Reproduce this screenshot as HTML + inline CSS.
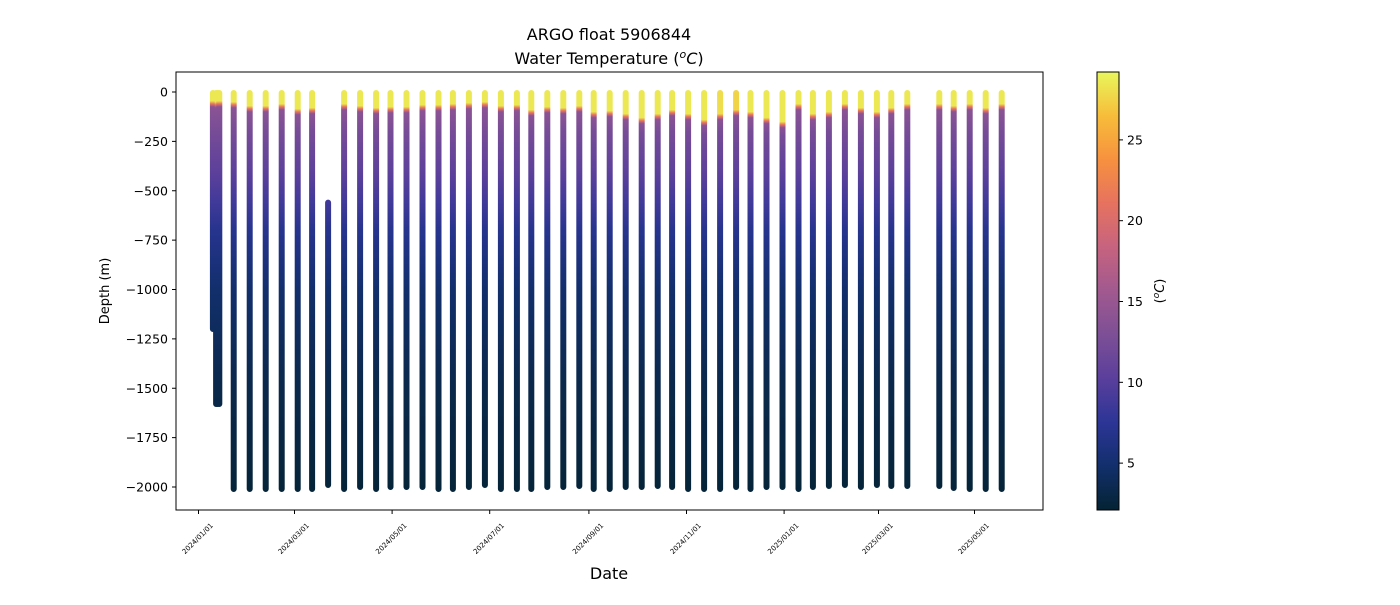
<!DOCTYPE html>
<html><head><meta charset="utf-8"><style>
body{margin:0;background:#fff;font-family:"Liberation Sans","DejaVu Sans",sans-serif}
</style></head><body>
<svg id="chart" width="1400" height="600" xmlns="http://www.w3.org/2000/svg" font-family="DejaVu Sans, Liberation Sans, sans-serif">
<defs id="defs"><linearGradient id="cbar" x1="0" y1="1" x2="0" y2="0"></linearGradient></defs>
<text x="609" y="40" text-anchor="middle" font-size="16">ARGO float 5906844</text>
<text x="609" y="64" text-anchor="middle" font-size="16">Water Temperature (<tspan font-style="italic" dy="-6" font-size="11">o</tspan><tspan font-style="italic" dy="6">C</tspan>)</text>
<g id="plot"></g>
<rect x="176" y="72" width="867" height="438" fill="none" stroke="#000" stroke-width="1"/>
<g id="yaxis"></g>
<g id="xaxis"></g>
<text transform="translate(109,291) rotate(-90)" text-anchor="middle" font-size="13">Depth (m)</text>
<text x="609" y="579" text-anchor="middle" font-size="16">Date</text>
<rect x="1097" y="72" width="22" height="438" fill="url(#cbar)" stroke="#000" stroke-width="1"/>
<g id="cbaxis"></g>
<text transform="translate(1164,291) rotate(-90)" text-anchor="middle" font-size="13">(<tspan font-style="italic" dy="-5" font-size="9">o</tspan><tspan font-style="italic" dy="5">C</tspan>)</text>
</svg>
<script>
// data: day offsets from 2024-01-01
const days=[9,11,12,13,22,32,42,52,62,71,81,91,101,111,120,130,140,150,159,169,179,189,199,208,218,228,238,247,257,267,277,287,296,306,316,326,336,345,355,365,375,384,394,404,414,424,433,443,463,472,482,492,502];
const sst=[28.5,28.5,28.5,28.5,28.5,28.5,28.5,28.5,28.5,28.5,28.5,28.5,28.5,28.5,28.5,28.5,28.5,28.5,28.5,28.5,28.5,28.5,28.5,28.5,28.5,28.5,28.5,28.5,28.5,28.5,28.5,28.5,28.5,28.5,28.5,28,27.5,28.5,28.5,28.5,28.5,28.5,28.5,28.5,28.5,28.5,28.5,28.5,28.5,28.5,28.5,28.5,28.5];
const mld=[45,45,50,45,50,70,70,60,85,80,0,60,70,80,75,75,65,65,60,55,50,70,65,90,75,80,70,100,95,110,130,110,90,110,140,110,90,100,130,150,60,110,100,60,80,100,80,60,60,70,60,80,60];
const minDepth=[5,5,5,5,5,5,5,5,5,5,560,5,5,5,5,5,5,5,5,5,5,5,5,5,5,5,5,5,5,5,5,5,5,5,5,5,5,5,5,5,5,5,5,5,5,5,5,5,5,5,5,5,5];
const maxDepth=[1200,1580,1580,1580,2010,2010,2010,2010,2010,2010,1990,2010,2000,2010,2000,2000,2000,2010,2010,2000,1990,2010,2010,2010,2000,2000,1995,2010,2010,2000,2000,1995,2000,2010,2010,2010,2000,2010,2000,2000,2010,2000,1995,1990,2000,1990,1995,1995,1995,2005,2010,2010,2010];
const yTicks=[0,-250,-500,-750,-1000,-1250,-1500,-1750,-2000];
const xTickDays=[0,60,121,182,244,305,366,425,485];
const xTickLabels=["2024/01/01","2024/03/01","2024/05/01","2024/07/01","2024/09/01","2024/11/01","2025/01/01","2025/03/01","2025/05/01"];
const cbTicks=[5,10,15,20,25];
const refDepth=[200,450,700,1000,1500,2000];
const refTemp=[12.5,10,7,4.8,3.2,2.4];

const NS="http://www.w3.org/2000/svg";
const xs=d=>198.5+d*1.6;
const ys=v=>92-v*0.1975;
const TMIN=2.1,TMAX=29.2;
const cbY=t=>510-(t-TMIN)/(TMAX-TMIN)*438;
const cmap=[[0,"#042333"],[0.1,"#122f6c"],[0.2,"#2c3596"],[0.3,"#5a3f9c"],[0.4,"#7d4f96"],[0.5,"#a1598f"],[0.6,"#c6637f"],[0.7,"#e6725f"],[0.8,"#f7913f"],[0.9,"#f7bd3a"],[1,"#e8f75c"]];
function hex(h){return [1,3,5].map(i=>parseInt(h.substr(i,2),16));}
function color(t){let f=Math.max(0,Math.min(1,(t-TMIN)/(TMAX-TMIN)));
 for(let i=1;i<cmap.length;i++){if(f<=cmap[i][0]){const a=cmap[i-1],b=cmap[i];const u=(f-a[0])/(b[0]-a[0]);const ca=hex(a[1]),cb=hex(b[1]);
 return "rgb("+ca.map((c,j)=>Math.round(c+(cb[j]-c)*u)).join(",")+")";}}return cmap[cmap.length-1][1];}
function temp(d,s,m){if(d<=m)return s;const dd=[m,m+30].concat(refDepth),tt=[s,14].concat(refTemp);
 for(let i=1;i<dd.length;i++){if(d<=dd[i]){return tt[i-1]+(tt[i]-tt[i-1])*(d-dd[i-1])/(dd[i]-dd[i-1]);}}return tt[tt.length-1];}
const defs=document.getElementById('defs');
const cg=document.getElementById('cbar');
cmap.forEach(c=>{const s=document.createElementNS(NS,'stop');s.setAttribute('offset',c[0]);s.setAttribute('stop-color',c[1]);cg.appendChild(s);});
const plot=document.getElementById('plot');
days.forEach((d,i)=>{
 const g=document.createElementNS(NS,'linearGradient');g.id='g'+i;
 g.setAttribute('gradientUnits','userSpaceOnUse');g.setAttribute('x1',0);g.setAttribute('x2',0);
 const y1=ys(-minDepth[i]),y2=ys(-maxDepth[i]);
 g.setAttribute('y1',y1);g.setAttribute('y2',y2);
 const pts=[minDepth[i],mld[i],mld[i]+15,mld[i]+30,mld[i]+80,200,300,450,550,700,850,1000,1250,1500,1750,2000].filter(p=>p>=minDepth[i]&&p<=maxDepth[i]);
 pts.push(maxDepth[i]);
 pts.forEach(p=>{const s=document.createElementNS(NS,'stop');s.setAttribute('offset',(p-minDepth[i])/(maxDepth[i]-minDepth[i]));s.setAttribute('stop-color',color(temp(p,sst[i],mld[i])));g.appendChild(s);});
 defs.appendChild(g);
 const l=document.createElementNS(NS,'line');
 
 
 l.setAttribute('x1',xs(d));l.setAttribute('x2',xs(d)+0.01);l.setAttribute('y1',y1);l.setAttribute('y2',y2);
 l.setAttribute('stroke','url(#g'+i+')');l.setAttribute('stroke-width',6);l.setAttribute('stroke-linecap','round');
 plot.appendChild(l);
});
const ya=document.getElementById('yaxis');
yTicks.forEach(v=>{const y=ys(v);
 const t=document.createElementNS(NS,'line');t.setAttribute('x1',172);t.setAttribute('x2',176);t.setAttribute('y1',y);t.setAttribute('y2',y);t.setAttribute('stroke','#000');ya.appendChild(t);
 const tx=document.createElementNS(NS,'text');
 
 
 tx.setAttribute('x',168);tx.setAttribute('y',y+4.5);tx.setAttribute('text-anchor','end');tx.setAttribute('font-size','12.5');tx.textContent=(v<0?"\u2212"+(-v):v);ya.appendChild(tx);});
const xa=document.getElementById('xaxis');
xTickDays.forEach((d,i)=>{const x=xs(d);
 const t=document.createElementNS(NS,'line');t.setAttribute('x1',x);t.setAttribute('x2',x);t.setAttribute('y1',510);t.setAttribute('y2',514);t.setAttribute('stroke','#000');xa.appendChild(t);
 const tx=document.createElementNS(NS,'text');
 
 
 tx.setAttribute('transform','translate('+(x+15)+',526) rotate(-45)');tx.setAttribute('text-anchor','end');tx.setAttribute('font-size','7');tx.textContent=xTickLabels[i];xa.appendChild(tx);});
const ca=document.getElementById('cbaxis');
cbTicks.forEach(v=>{const y=cbY(v);
 const t=document.createElementNS(NS,'line');t.setAttribute('x1',1119);t.setAttribute('x2',1123);t.setAttribute('y1',y);t.setAttribute('y2',y);t.setAttribute('stroke','#000');ca.appendChild(t);
 const tx=document.createElementNS(NS,'text');
 
 
 tx.setAttribute('x',1127);tx.setAttribute('y',y+4.5);tx.setAttribute('font-size','12.5');tx.textContent=v;ca.appendChild(tx);});
</script>
</body></html>
